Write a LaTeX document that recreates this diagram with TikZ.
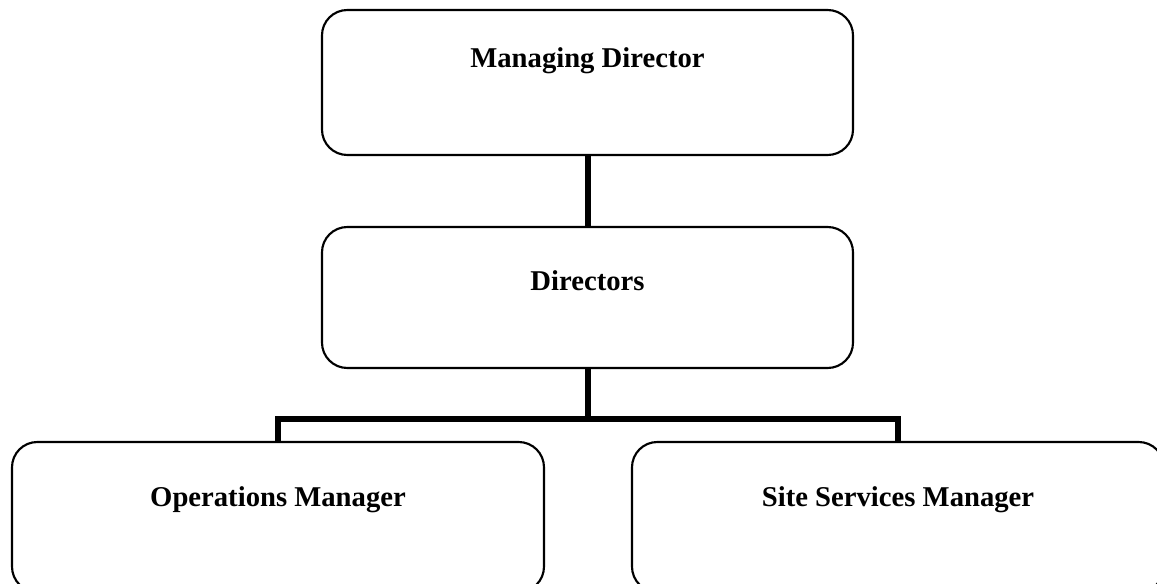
\documentclass[tikz,border=0pt]{standalone}
\usepackage{fontspec}
\setmainfont{Liberation Serif}
\usetikzlibrary{fit}
\begin{document}
\begin{tikzpicture}[x=0.75pt,y=-0.75pt,
  box/.style={draw=black, line width=1.6pt, rounded corners=19pt, inner sep=0pt, fill=white},
  conn/.style={draw=black, line width=4.5pt, line join=miter},
  lbl/.style={anchor=base, inner sep=0pt, font=\fontsize{21.5}{25}\selectfont\bfseries}]
\useasboundingbox (0,0) rectangle (1157,584);
\clip (0,0) rectangle (1157,584);
\node[box, fit={(322,10) (853,155)}] (md) {};
\node[box, fit={(322,227) (853,368)}] (dir) {};
\node[box, fit={(12,442) (544,592)}] (ops) {};
\node[box, fit={(632,442) (1164,592)}] (site) {};
\path (dir.south |- 0,419) coordinate (bus);
\draw[conn] (md.south) -- (dir.north);
\draw[conn] (dir.south) -- (bus);
\draw[conn] (ops.north) |- (bus) -| (site.north);
\node[lbl] (mdt) at (md.north |- 0,68) {Managing Director};
\node[lbl] (dirt) at (dir.north |- 0,291) {Directors};
\node[lbl] (opst) at (ops.north |- 0,507) {Operations Manager};
\node[lbl] (sitet) at (site.north |- 0,507) {Site Services Manager};
\end{tikzpicture}
\end{document}
